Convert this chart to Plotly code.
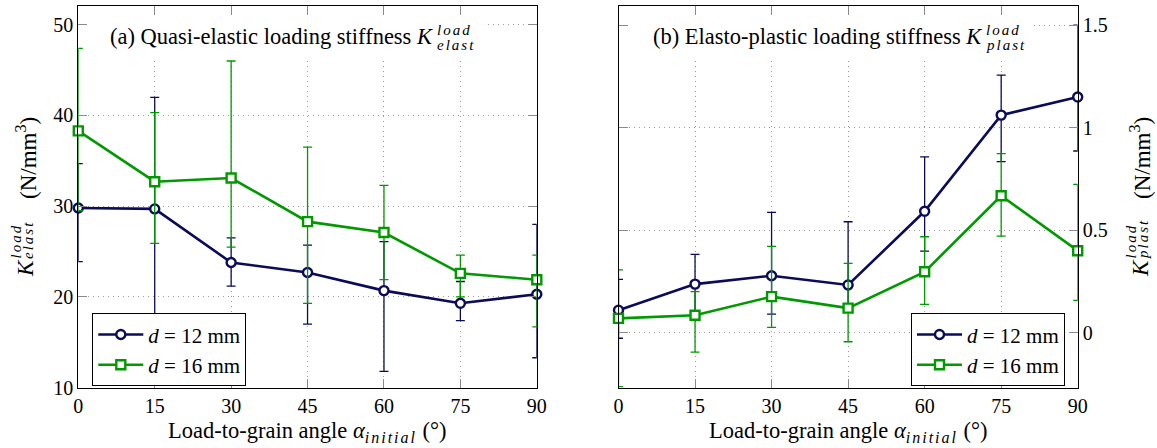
import plotly.graph_objects as go

W, H = 1157, 448
FONT = "Liberation Serif"
NAVY = "#0b0b5a"
GREEN = "#009900"

# ---------------- data ----------------
angles = [0, 15, 30, 45, 60, 75, 90]

elast_d12 = [29.8, 29.7, 23.8, 22.7, 20.7, 19.3, 20.3]
elast_d12_hi = [34.7, 42.0, 26.5, 25.7, 26.1, 21.7, 28.0]
elast_d12_lo = [23.9, 17.5, 21.2, 17.0, 11.8, 17.4, 13.3]
elast_d16 = [38.3, 32.7, 33.1, 28.3, 27.1, 22.6, 21.9]
elast_d16_hi = [47.4, 40.3, 46.0, 36.5, 32.3, 24.6, 24.6]
elast_d16_lo = [29.5, 25.9, 25.5, 19.3, 21.9, 20.0, 16.7]

plast_d12 = [0.11, 0.237, 0.278, 0.233, 0.592, 1.061, 1.149]
plast_d12_hi = [0.26, 0.382, 0.587, 0.541, 0.857, 1.256, 1.50]
plast_d12_lo = [-0.027, 0.09, 0.091, 0.12, 0.398, 0.834, 0.886]
plast_d16 = [0.07, 0.085, 0.176, 0.12, 0.297, 0.668, 0.40]
plast_d16_hi = [0.306, 0.20, 0.421, 0.338, 0.468, 0.873, 0.723]
plast_d16_lo = [-0.263, -0.095, 0.026, -0.044, 0.138, 0.471, 0.158]

series_names = ["<i>d</i> = 12 mm", "<i>d</i> = 16 mm"]
x_ticks = [str(a) for a in angles]
left_yticks = [10, 20, 30, 40, 50]
right_yticks = [0, 0.5, 1, 1.5]
right_yticktext = ["0", "0.5", "1", "1.5"]


def px(x):
    return x / W


def py(y):
    return 1 - y / H


fig = go.Figure()


def add(xa, ya, vals, hi, lo, color, symbol, name, legend):
    fig.add_trace(go.Scatter(
        x=angles, y=vals, mode="lines+markers", name=name,
        line=dict(color=color, width=2.6),
        marker=dict(symbol=symbol, size=9, color="white",
                    line=dict(color=color, width=2.4)),
        error_y=dict(type="data", symmetric=False,
                     array=[h - v for h, v in zip(hi, vals)],
                     arrayminus=[v - l for v, l in zip(vals, lo)],
                     color=color, thickness=1.3, width=4.5),
        xaxis=xa, yaxis=ya, legend=legend, cliponaxis=False))


add("x", "y", elast_d12, elast_d12_hi, elast_d12_lo, NAVY, "circle", series_names[0], "legend")
add("x", "y", elast_d16, elast_d16_hi, elast_d16_lo, GREEN, "square", series_names[1], "legend")
add("x2", "y2", plast_d12, plast_d12_hi, plast_d12_lo, NAVY, "circle", series_names[0], "legend2")
add("x2", "y2", plast_d16, plast_d16_hi, plast_d16_lo, GREEN, "square", series_names[1], "legend2")

tickfont = dict(family=FONT, size=20, color="black")
common = dict(ticks="inside", ticklen=9, tickcolor="#8a8a8a", tickwidth=1,
              showline=True, linecolor="black", linewidth=1, mirror="ticks",
              showgrid=True, gridcolor="#9a9a9a", griddash="1px,4px", gridwidth=1,
              zeroline=False, tickfont=tickfont, automargin=False)

LX0, LX1 = 78.3, 536.8
RX0, RX1 = 618.5, 1077.7
YT, YB = 6.0, 387.7

legend_common = dict(yanchor="top", bordercolor="black", borderwidth=1, bgcolor="white",
                     font=dict(family=FONT, size=21, color="black"), tracegroupgap=0,
                     itemwidth=45)

fig.update_layout(
    template="none",
    width=W, height=H, margin=dict(l=0, r=0, t=0, b=0),
    paper_bgcolor="white", plot_bgcolor="white",
    font=dict(family=FONT, color="black"),
    xaxis=dict(domain=[px(LX0), px(LX1)], range=[0, 90], tickvals=angles,
               ticktext=x_ticks, anchor="y", **common),
    yaxis=dict(domain=[py(YB), py(YT)], range=[10, 52.06], tickvals=left_yticks,
               anchor="x", **common),
    xaxis2=dict(domain=[px(RX0), px(RX1)], range=[0, 90], tickvals=angles,
                ticktext=x_ticks, anchor="y2", **common),
    yaxis2=dict(domain=[py(YB), py(YT)], range=[-0.268, 1.593], tickvals=right_yticks,
                ticktext=right_yticktext, side="right", anchor="x2", **common),
    legend=dict(x=px(92.3), y=py(313.3), xanchor="left", **legend_common),
    legend2=dict(x=px(1065), y=py(313.3), xanchor="right", **legend_common),
    showlegend=True,
)

# white boxes behind panel titles (hide grid)
fig.add_shape(type="rect", xref="x", yref="y", x0=0, x1=79.6, y0=46.44, y1=52.06,
              fillcolor="white", line_width=0, layer="between")
fig.add_shape(type="rect", xref="x2", yref="y2", x0=0, x1=81, y0=1.344, y1=1.593,
              fillcolor="white", line_width=0, layer="between")

ann = []


def a(text, x, y, size, xanchor="center", yanchor="middle", angle=0):
    ann.append(dict(text=text, x=px(x), y=py(y), xref="paper", yref="paper",
                    xanchor=xanchor, yanchor=yanchor, showarrow=False,
                    textangle=angle, borderpad=0, borderwidth=0,
                    font=dict(family=FONT, size=size, color="black")))


def spaced(t):
    return f'<span style="letter-spacing:2px"><i>{t}</i></span>'


# panel titles
a("(a) Quasi-elastic loading stiffness <i>K</i>", 433, 37, 22.5, xanchor="right")
a(spaced("load"), 437, 30, 15, xanchor="left")
a(spaced("elast"), 437, 45, 15, xanchor="left")
a("(b) Elasto-plastic loading stiffness <i>K</i>", 982, 37, 22.5, xanchor="right")
a(spaced("load"), 986, 30, 15, xanchor="left")
a(spaced("plast"), 986, 45, 15, xanchor="left")

# x axis titles
xt = ('Load-to-grain angle <i>α</i><sub><span style="font-size:16px;letter-spacing:2px">'
      '<i>initial</i></span></sub> (°)')
a(xt, (LX0 + LX1) / 2, 432, 22.5)
a(xt, (RX0 + RX1) / 2, 432, 22.5)

# y axis titles (rotated)
a("<i>K</i>", 25, 268, 23, angle=-90)
a(spaced("load"), 15, 259, 15, yanchor="bottom", angle=-90)
a(spaced("elast"), 28, 259, 15, yanchor="bottom", angle=-90)
a("(N/mm<sup>3</sup>)", 26, 117, 23, yanchor="top", angle=-90)

a("<i>K</i>", 1140, 268, 23, angle=-90)
a(spaced("load"), 1130, 259, 15, yanchor="bottom", angle=-90)
a(spaced("plast"), 1143, 259, 15, yanchor="bottom", angle=-90)
a("(N/mm<sup>3</sup>)", 1140, 117, 23, yanchor="top", angle=-90)

fig.update_layout(annotations=ann)

fig.write_html("out.html")
